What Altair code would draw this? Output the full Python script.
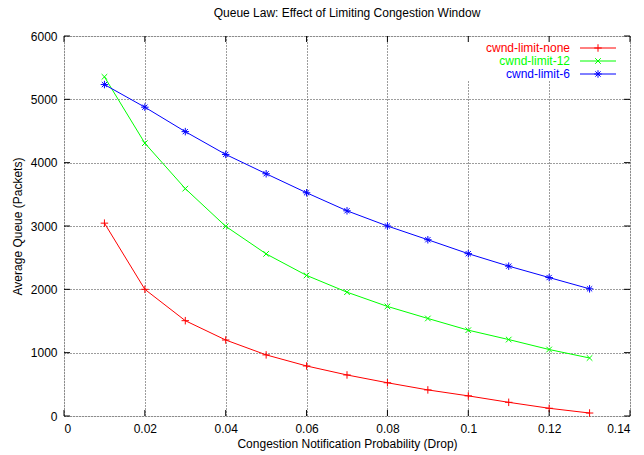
import altair as alt
import pandas as pd

# ---- data ----
probability = [0.01, 0.02, 0.03, 0.04, 0.05, 0.06, 0.07, 0.08, 0.09, 0.10, 0.11, 0.12, 0.13]
cwnd_limit_none = [3045, 2000, 1505, 1200, 965, 790, 648, 525, 412, 318, 216, 122, 47]
cwnd_limit_12 = [5355, 4308, 3590, 2995, 2560, 2220, 1955, 1730, 1540, 1355, 1207, 1050, 916]
cwnd_limit_6 = [5233, 4876, 4490, 4130, 3825, 3525, 3240, 3000, 2783, 2563, 2366, 2186, 2008]

series_names = ["cwnd-limit-none", "cwnd-limit-12", "cwnd-limit-6"]
series_colors = ["#ff0000", "#00ff00", "#0000ff"]
series_shapes = [
    "M-1,0L1,0M0,-1L0,1",
    "M-0.75,-0.75L0.75,0.75M-0.75,0.75L0.75,-0.75",
    "M-1,0L1,0M0,-1L0,1M-0.7,-0.7L0.7,0.7M-0.7,0.7L0.7,-0.7",
]
x_ticks = [0, 0.02, 0.04, 0.06, 0.08, 0.10, 0.12, 0.14]
y_ticks = [0, 1000, 2000, 3000, 4000, 5000, 6000]

rows = []
for name, vals in zip(series_names, [cwnd_limit_none, cwnd_limit_12, cwnd_limit_6]):
    for p, v in zip(probability, vals):
        rows.append({"p": p, "q": v, "series": name})
df = pd.DataFrame(rows)
xt = pd.DataFrame({"x": x_ticks})
yt = pd.DataFrame({"y": y_ticks})
leg = pd.DataFrame({"series": series_names})

W, H = 566, 380
FONT = "Liberation Sans"

xscale = alt.Scale(domain=[0, 0.14], nice=False, zero=False)
yscale = alt.Scale(domain=[0, 6000], nice=False)
color = alt.Color("series:N", scale=alt.Scale(domain=series_names, range=series_colors), legend=None)
shape = alt.Shape("series:N", scale=alt.Scale(domain=series_names, range=series_shapes), legend=None)

GRID = "#3a3a3a"
xaxis = alt.Axis(values=x_ticks, format="~g", grid=True, gridDash=[1, 2], gridColor=GRID,
                 gridOpacity=1, tickSize=0, domain=False, labelPadding=7, labelFontSize=12,
                 labelFont=FONT, labelColor="black", title="Congestion Notification Probability (Drop)",
                 titleFont=FONT, titleFontSize=12, titleFontWeight="normal", titlePadding=4,
                 titleColor="black")
yaxis = alt.Axis(values=y_ticks, format="d", grid=True, gridDash=[1, 2], gridColor=GRID, gridOpacity=1,
                 tickSize=0, domain=False, labelPadding=7, labelFontSize=12, labelFont=FONT,
                 labelColor="black", title="Average Queue (Packets)", titleFont=FONT,
                 titleFontSize=12, titleFontWeight="normal", titlePadding=6, titleColor="black")

X = alt.X("p:Q", scale=xscale, axis=xaxis)
Y = alt.Y("q:Q", scale=yscale, axis=yaxis)

base = alt.Chart(df)

lines = base.mark_line(strokeWidth=1).encode(x=X, y=Y, color=color, detail="series:N")

# white mask behind the key (gnuplot key hides the grid there)
mask = alt.Chart(leg).mark_rect(color="white").encode(
    x=alt.value(396), x2=alt.value(W - 1), y=alt.value(1), y2=alt.value(44)
).transform_filter(alt.datum.series == series_names[0])

points = base.mark_point(filled=False, strokeWidth=1, size=56, opacity=1).encode(
    x=X, y=Y, color=color, shape=shape)

tick_len = 6
XT = alt.X("x:Q", scale=xscale, axis=xaxis)
YT = alt.Y("y:Q", scale=yscale, axis=yaxis)
xt_bottom = alt.Chart(xt).mark_rule(color="black").encode(x=XT, y=alt.value(H), y2=alt.value(H - tick_len))
xt_top = alt.Chart(xt).mark_rule(color="black").encode(x=XT, y=alt.value(0), y2=alt.value(tick_len))
yt_left = alt.Chart(yt).mark_rule(color="black").encode(y=YT, x=alt.value(0), x2=alt.value(tick_len))
yt_right = alt.Chart(yt).mark_rule(color="black").encode(y=YT, x=alt.value(W), x2=alt.value(W - tick_len))

main = alt.layer(lines, mask, points, xt_bottom, xt_top, yt_left, yt_right)

leg_y = alt.Y("series:N", scale=alt.Scale(type="point", domain=series_names, range=[12, 38], padding=0), axis=None)
leg_text = alt.Chart(leg).mark_text(align="right", baseline="middle", font=FONT, fontSize=12).encode(
    x=alt.value(506), y=leg_y, text="series:N", color=color)
leg_rule = alt.Chart(leg).mark_rule(strokeWidth=1).encode(
    x=alt.value(516), x2=alt.value(552), y=leg_y, color=color)
leg_pt = alt.Chart(leg).mark_point(filled=False, strokeWidth=1, size=56, opacity=1).encode(
    x=alt.value(534), y=leg_y, color=color, shape=shape)
legend_layer = alt.layer(leg_rule, leg_pt, leg_text)

chart = alt.layer(main, legend_layer).resolve_scale(y="independent").properties(
    width=W, height=H,
    title=alt.Title("Queue Law: Effect of Limiting Congestion Window", font=FONT, fontSize=12,
                    fontWeight="normal", color="black", offset=10),
    padding={"left": 64, "top": 36, "right": 14, "bottom": 39},
    autosize=alt.AutoSizeParams(type="none"),
).configure_view(stroke="black", strokeWidth=1).configure(background="white")

chart.save("out.html", embed_options={"renderer": "svg", "actions": False})
